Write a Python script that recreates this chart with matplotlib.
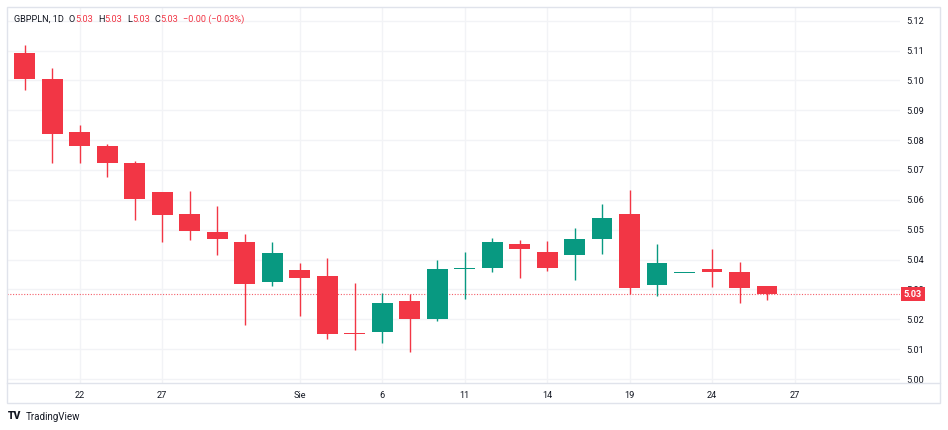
import matplotlib
matplotlib.use("Agg")
import matplotlib.pyplot as plt
import numpy as np
from matplotlib.patches import Rectangle
from matplotlib.lines import Line2D

# GBPPLN daily candles (index = bar number)
opens = [5.1092, 5.1005, 5.0828, 5.0779, 5.0725, 5.0626, 5.0551, 5.0493, 5.0460, 5.0325,
         5.0365, 5.0344, 5.0153, 5.0156, 5.0261, 5.0202, 5.0369, 5.0371, 5.0451, 5.0426,
         5.0414, 5.0470, 5.0551, 5.0315, 5.0356, 5.0370, 5.0359, 5.0311]
highs = [5.1120, 5.1040, 5.0851, 5.0788, 5.0731, 5.0626, 5.0631, 5.0579, 5.0484, 5.0460,
         5.0387, 5.0406, 5.0320, 5.0287, 5.0284, 5.0397, 5.0426, 5.0473, 5.0464, 5.0461,
         5.0507, 5.0587, 5.0634, 5.0451, 5.0356, 5.0434, 5.0393, 5.0312]
lows = [5.0969, 5.0724, 5.0722, 5.0675, 5.0534, 5.0460, 5.0465, 5.0416, 5.0181, 5.0311,
        5.0211, 5.0135, 5.0097, 5.0122, 5.0091, 5.0194, 5.0267, 5.0358, 5.0339, 5.0362,
        5.0330, 5.0420, 5.0286, 5.0278, 5.0356, 5.0309, 5.0253, 5.0264]
closes = [5.1005, 5.0821, 5.0780, 5.0722, 5.0604, 5.0550, 5.0497, 5.0468, 5.0319, 5.0421,
          5.0339, 5.0150, 5.0151, 5.0253, 5.0200, 5.0367, 5.0371, 5.0460, 5.0435, 5.0371,
          5.0469, 5.0540, 5.0306, 5.0390, 5.0356, 5.0358, 5.0305, 5.0284]

tick_pos = [2, 5, 10, 13, 16, 19, 22, 25, 28]
tick_labels = ["22", "27", "Sie", "6", "11", "14", "19", "24", "27"]
price_ticks = [5.00, 5.01, 5.02, 5.03, 5.04, 5.05, 5.06, 5.07, 5.08, 5.09, 5.10, 5.11, 5.12]

UP = "#089981"
DOWN = "#F23645"
TXT = "#131722"
GRID = "#f2f3f6"
FRAME = "#e0e3eb"
FS = 6.6

plt.rcParams["font.family"] = ["Roboto", "DejaVu Sans"]

W, H = 948, 430
fig = plt.figure(figsize=(W / 100, H / 100), dpi=100)
fig.patch.set_facecolor("white")


def fx(px):
    return px / W


def fy(py):
    return 1 - py / H


# outer frame and time-scale separator
fig.add_artist(Rectangle((fx(7), fy(403.3)), fx(940) - fx(7), fy(7) - fy(403.3),
                         transform=fig.transFigure, fill=False, edgecolor=FRAME, linewidth=1))
fig.add_artist(Line2D([fx(7), fx(940)], [fy(383.3), fy(383.3)],
                      transform=fig.transFigure, color=FRAME, linewidth=1))

ax = fig.add_axes([fx(7), fy(383.3), fx(900) - fx(7), fy(7) - fy(383.3)])
for s in ax.spines.values():
    s.set_visible(False)

x = np.arange(len(opens))
o = np.array(opens)
c = np.array(closes)
hi = np.array(highs)
lo = np.array(lows)
colors = [UP if cc >= oo else DOWN for oo, cc in zip(o, c)]

ax.set_xlim(-0.644, 31.83)
ax.set_ylim(4.99856, 5.12459)

# grid
for p in price_ticks:
    ax.axhline(p, color=GRID, linewidth=1, zorder=0)
for t in tick_pos:
    ax.axvline(t, color=GRID, linewidth=1, zorder=0)

ax.vlines(x, lo, hi, colors=colors, linewidth=1, zorder=2)
body_bottom = np.minimum(o, c)
body_h = np.maximum(np.abs(c - o), 0.00035)
ax.bar(x, body_h, bottom=body_bottom, width=0.75, color=colors, linewidth=0, zorder=3)

# last price line
last = closes[-1]
ax.axhline(last, color=DOWN, linewidth=0.8, linestyle=(0, (1, 1.5)), alpha=0.8, zorder=1)

ax.yaxis.tick_right()
ax.set_yticks(price_ticks)
ax.set_yticklabels([f"{p:.2f}" for p in price_ticks])
ax.set_xticks(tick_pos)
ax.set_xticklabels(tick_labels)
ax.tick_params(axis="both", length=0, labelsize=FS, colors=TXT)
ax.tick_params(axis="y", pad=4.5)
ax.tick_params(axis="x", pad=5.5)

ax.annotate(f"{last:.2f}", xy=(1.0, last), xycoords=("axes fraction", "data"),
            xytext=(2.8, 0), textcoords="offset points", ha="left", va="center",
            fontsize=FS, color="white", fontweight="bold",
            bbox=dict(boxstyle="square,pad=0.3", facecolor=DOWN, edgecolor="none"),
            annotation_clip=False, zorder=10)

# header legend, pieces laid out one after another
renderer = fig.canvas.get_renderer()
hy = fy(19)
parts = [("GBPPLN, 1D", TXT, 5), ("O", TXT, 0), ("5.03", DOWN, 5), ("H", TXT, 0),
         ("5.03", DOWN, 5), ("L", TXT, 0), ("5.03", DOWN, 5), ("C", TXT, 0),
         ("5.03", DOWN, 5), ("\u22120.00 (\u22120.03%)", DOWN, 0)]
cur = 14
for s, col, gap in parts:
    t = fig.text(fx(cur), hy, s, fontsize=FS, color=col, va="center")
    cur = t.get_window_extent(renderer).x1 + gap

# footer logo
fig.text(fx(8), fy(416), "TV", fontsize=7.5, fontweight="heavy", color=TXT, va="center")
fig.text(fx(26), fy(416.5), "TradingView", fontsize=7, color=TXT, va="center")

fig.savefig("out.png", dpi=100, facecolor="white")
